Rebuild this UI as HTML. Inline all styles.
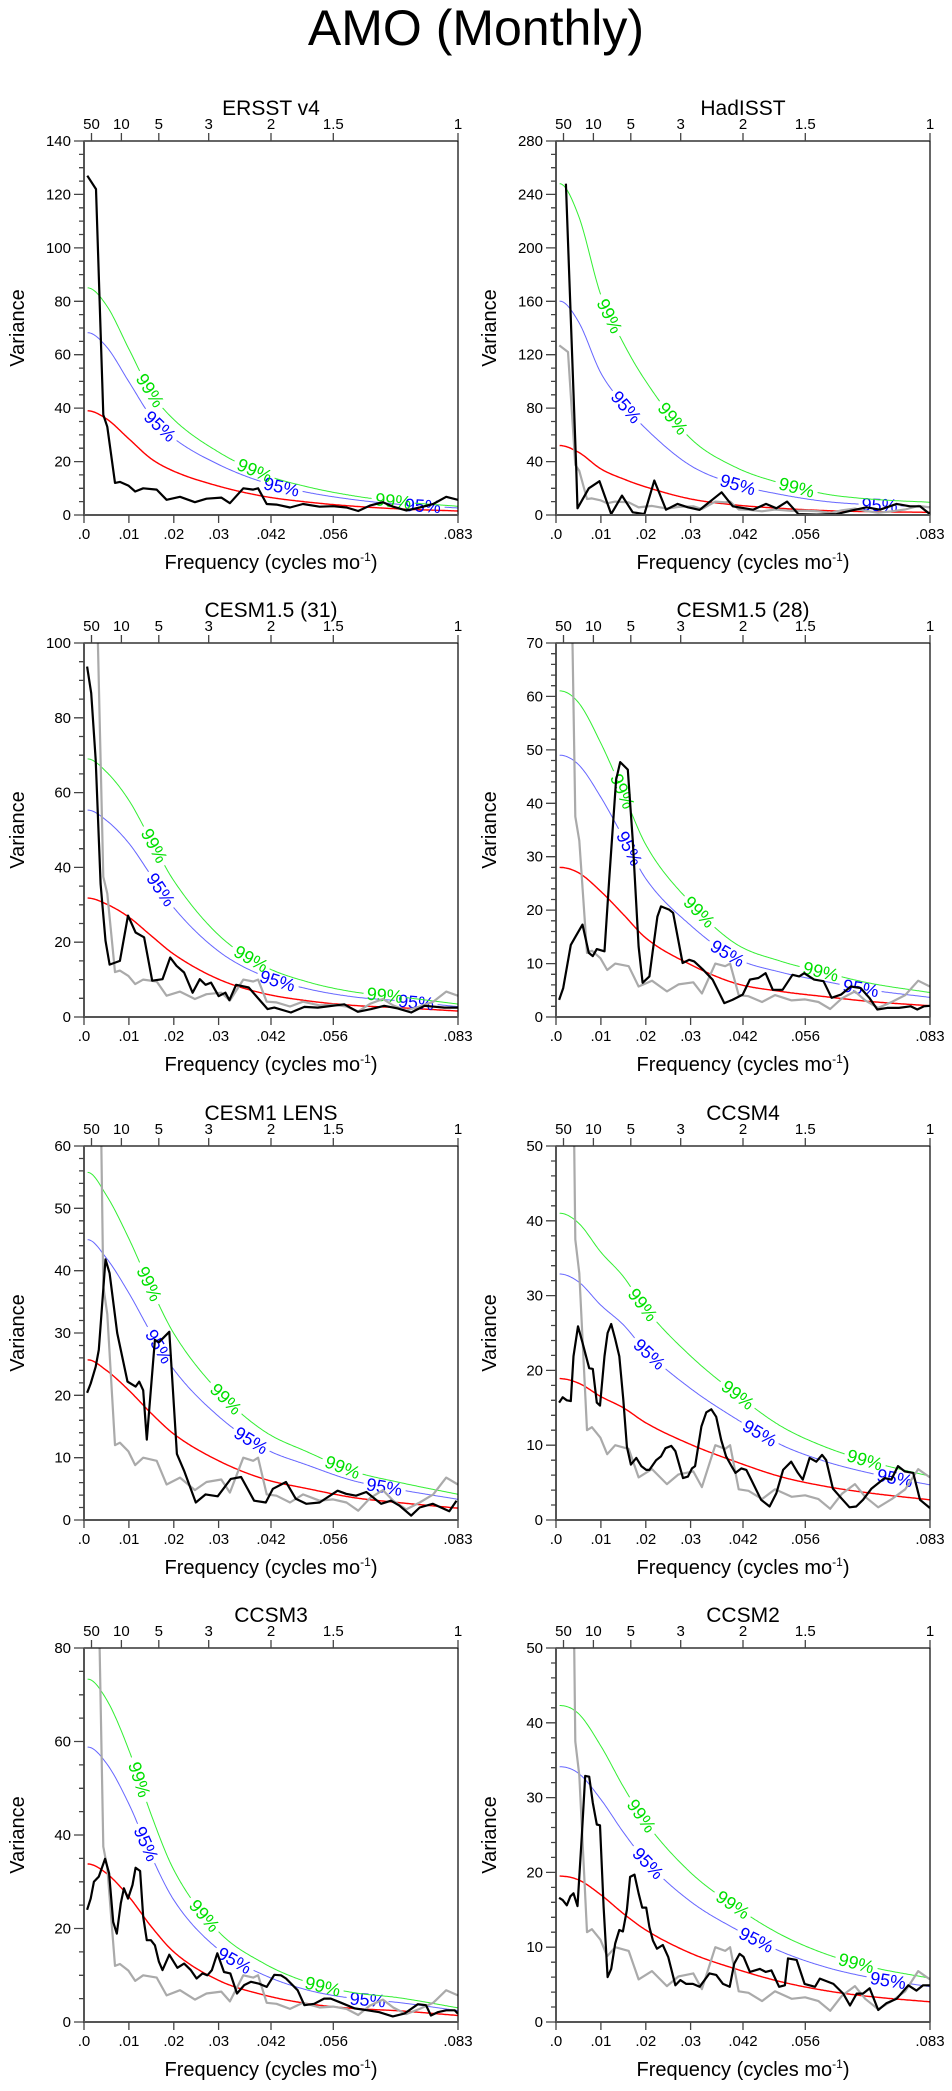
<!DOCTYPE html>
<html><head><meta charset="utf-8"><title>AMO (Monthly)</title>
<style>
html,body{margin:0;padding:0;background:#fff;}
svg{display:block;font-family:"Liberation Sans",Arial,sans-serif;}
</style></head>
<body>
<svg id="chart" width="952" height="2091" viewBox="0 0 952 2091" xmlns="http://www.w3.org/2000/svg">
<text x="476" y="45" text-anchor="middle" font-size="50">AMO (Monthly)</text>
</svg>
<script>
// ---------- data ----------
const redF = [0.0008,0.005,0.01,0.015,0.02,0.03,0.04,0.05,0.06,0.07,0.0833];
const xTickF = [0,0.01,0.02,0.03,1/24,1/18,1/12];
const xTickLabels = [".0",".01",".02",".03",".042",".056",".083"];
const periodYears = [50,10,5,3,2,1.5,1];
const periodLabels = ["50","10","5","3","2","1.5","1"];

const ersstF = [0.00074,0.00267,0.0043,0.0052,0.0069,0.0080,0.0099,0.0114,0.0132,0.0162,0.0184,0.0214,0.0247,0.0273,0.0306,0.0325,0.0355,0.0377,0.0388,0.0407,0.0429,0.0459,0.0488,0.0525,0.0555,0.0585,0.0611,0.0637,0.0666,0.0689,0.0718,0.0748,0.0778,0.0807,0.0833];
const ersstV = [127,122,37.5,33,12,12.4,11,8.8,10,9.5,5.7,6.8,4.8,6.1,6.5,4.4,10,9.5,10,4.1,3.9,2.8,4.1,3.1,3.3,2.8,1.5,3.5,4.8,3.1,1.7,2.8,4.1,6.8,5.7];
const ersstRed = [39,36,28.5,21,16.4,10.8,7,4.8,3.3,2.3,1.5];

const hadF = [0.0022,0.0045,0.0048,0.0073,0.0097,0.0123,0.0147,0.0171,0.0197,0.0219,0.0245,0.0271,0.0294,0.0320,0.0369,0.0394,0.0439,0.0468,0.0491,0.0515,0.0540,0.0580,0.0625,0.0658,0.0692,0.0722,0.0759,0.0789,0.0811,0.0833];
const hadV = [248,35.8,5,20,25.3,0.7,14.5,2,0.7,25.8,4,8.3,5.8,3.8,17,6.5,4,8.3,5,10,0.7,0.3,0.7,3.3,5.8,4,8.3,6.5,6.5,0.7];
const hadRed = [52,47,34.5,27,21,12,7.5,5,3.3,2.5,2];

const c31F = [0.0007,0.0016,0.0026,0.0037,0.0048,0.0057,0.0080,0.0098,0.0115,0.0134,0.0152,0.0175,0.0192,0.0206,0.0223,0.0242,0.0258,0.0271,0.0283,0.0300,0.0315,0.0324,0.0339,0.0367,0.0409,0.0424,0.0461,0.0491,0.0521,0.0580,0.0610,0.0640,0.0669,0.0699,0.0729,0.0759,0.0803,0.0833];
const c31V = [93.7,86.6,68.7,35.6,20.4,14,15,27.1,22.6,21.3,9.7,10.1,15.9,13.7,11.9,6.5,10.1,8.6,9.2,5.6,6.5,4.5,8.6,7.9,2.1,2.5,1.2,2.7,2.5,3.4,1.4,2.1,3,2.3,1.2,3,2.5,2.5];
const c31Red = [31.8,30.2,26.7,21.7,16.8,10.1,6.3,4.3,3.1,2.5,1.6];

const c28F = [0.0007,0.0016,0.0033,0.0044,0.0059,0.0073,0.0082,0.0091,0.0108,0.0119,0.0134,0.0143,0.0160,0.0171,0.0184,0.0193,0.0208,0.0215,0.0226,0.0234,0.0252,0.0261,0.0282,0.0297,0.0308,0.0327,0.0349,0.0375,0.0393,0.0416,0.0432,0.0451,0.0467,0.0483,0.0505,0.0527,0.0542,0.0553,0.0575,0.0596,0.0614,0.0635,0.0657,0.0679,0.0698,0.0716,0.0738,0.0764,0.0790,0.0805,0.0820,0.0833];
const c28V = [3.2,5.4,13.5,15.1,17.3,12,11.4,12.7,12.3,26.3,44.4,47.7,46.3,33.2,13.2,6.4,7.6,12,18.8,20.7,20.1,19.5,10.1,10.7,10.4,8.9,7,2.6,3.2,4.2,7,7.3,8.2,5.1,5.1,7.9,7.6,8.2,7,6.7,3.6,4.2,5.7,5.4,3.6,1.4,1.7,1.7,2,1.4,2,2.1];
const c28Red = [28,27,23.5,19.2,14.8,9.8,6.3,4.8,3.8,2.9,2.1];

const lensF = [0.0007,0.0015,0.0026,0.0033,0.0048,0.0057,0.0074,0.0097,0.0115,0.0123,0.0132,0.0140,0.0158,0.0167,0.0190,0.0207,0.0223,0.0249,0.0271,0.0298,0.0327,0.0350,0.0379,0.0405,0.0421,0.0450,0.0472,0.0495,0.0525,0.0565,0.0584,0.0606,0.0629,0.0662,0.0684,0.0703,0.0729,0.0748,0.0777,0.0814,0.0830];
const lensV = [20.4,21.9,24.6,27.3,41.8,39.6,30,22.2,21.4,22.2,20.8,12.9,28.9,28.5,30.2,10.6,7.9,2.8,4.1,3.8,6.6,6.9,3.1,2.8,5,6.1,3.4,2.6,2.8,4.7,4.2,3.9,4.5,2.6,3.1,2.3,0.7,2,2.6,1.4,3.1];
const lensRed = [25.7,24,20.8,17.1,13.8,9.5,6.6,5,3.6,2.8,1.9];

const c4F = [0.0007,0.0015,0.0024,0.0033,0.0039,0.0049,0.0059,0.0074,0.0082,0.0091,0.0098,0.0108,0.0115,0.0123,0.0132,0.0141,0.0150,0.0158,0.0167,0.0179,0.0190,0.0201,0.0208,0.0223,0.0234,0.0244,0.0257,0.0266,0.0283,0.0294,0.0303,0.0310,0.0324,0.0335,0.0346,0.0357,0.0368,0.0379,0.0391,0.0400,0.0413,0.0424,0.0435,0.0457,0.0476,0.0491,0.0506,0.0524,0.0539,0.0550,0.0565,0.0580,0.0593,0.0602,0.0617,0.0636,0.0654,0.0669,0.0684,0.0703,0.0718,0.0732,0.0747,0.0762,0.0777,0.0796,0.0811,0.0833];
const c4V = [15.7,16.4,16,15.9,21.9,25.9,23.7,20.3,20.2,15.7,15.3,21.9,25,26.2,24.2,21.9,16.1,9.8,7.4,8.3,7.2,6.7,6.7,8,8.5,9.6,9.9,9.2,5.6,5.8,6.9,7.2,12.5,14.4,14.8,13.8,10.7,8.5,7.2,6.3,6.9,6.7,5.4,2.7,1.8,3.6,6.7,7.8,6.3,5.4,8.3,7.8,8.7,8,4.2,2.9,1.7,1.8,2.7,4.2,4.9,5.6,5.4,7.2,6.5,6.3,2.7,1.6];
const c4Red = [18.9,18.3,16.5,15,13,10.1,7.8,5.8,4.5,3.6,2.7];

const c3F = [0.0007,0.0015,0.0022,0.0033,0.0047,0.0056,0.0065,0.0073,0.0082,0.0089,0.0098,0.0108,0.0115,0.0125,0.0132,0.0140,0.0149,0.0158,0.0167,0.0175,0.0190,0.0208,0.0223,0.0238,0.0251,0.0264,0.0275,0.0285,0.0297,0.0312,0.0326,0.0341,0.0357,0.0372,0.0390,0.0407,0.0424,0.0439,0.0450,0.0476,0.0491,0.0513,0.0535,0.0550,0.0573,0.0603,0.0632,0.0658,0.0688,0.0714,0.0744,0.0762,0.0773,0.0788,0.0807,0.0826,0.0833];
const c3V = [24,26.4,30,31.1,34.9,31.8,21.4,18.9,25.4,28.6,26.4,29.3,33,32.3,22.5,17.5,17.5,16.4,12.9,11.1,14.4,11.6,12.5,11.1,9.3,10.4,10,11.1,14.7,10.7,10.4,6.1,7.9,8.6,8.2,7.5,10.1,10,9.3,6.8,3.6,3.9,5,5,4.1,2.9,2.5,2.1,1.2,1.8,3.8,3.6,1.4,2.1,2.5,2.5,1.8];
const c3Red = [33.8,31.8,26.8,20.4,15,8.9,5.8,3.9,2.9,2.4,1.4];

const c2F = [0.0007,0.0015,0.0024,0.0032,0.0039,0.0048,0.0057,0.0065,0.0074,0.0082,0.0091,0.0098,0.0106,0.0115,0.0123,0.0132,0.0141,0.0149,0.0158,0.0165,0.0175,0.0184,0.0192,0.0201,0.0208,0.0216,0.0225,0.0238,0.0250,0.0266,0.0277,0.0290,0.0305,0.0320,0.0342,0.0357,0.0372,0.0387,0.0397,0.0409,0.0418,0.0432,0.0454,0.0467,0.0480,0.0497,0.0510,0.0517,0.0536,0.0554,0.0577,0.0588,0.0618,0.0640,0.0655,0.0670,0.0684,0.0699,0.0718,0.0736,0.0759,0.0785,0.0803,0.0818,0.0833];
const c2V = [16.6,16.3,15.6,16.8,17.2,15.5,24.4,32.9,32.8,29.3,26.4,26.3,15.4,6,7.1,10.5,12.3,12.1,15,19.4,19.7,17.2,15.3,15.3,12.7,10.9,9.8,10.3,8.7,4.9,5.6,5.1,5.1,4.7,6.5,6.3,5.1,4.7,7.8,9.1,8.7,6.7,7.1,6.7,6.9,4.7,4.9,8.5,8.3,5.1,4.7,5.8,5.1,3.8,2.2,3.8,3.8,4.5,1.6,2.5,3.1,4.9,4.2,4.9,4.9];
const c2Red = [19.5,19,17,14.5,12.3,9.2,7.1,5.4,4.2,3.4,2.7];

const panelTitles = ["ERSST v4","HadISST","CESM1.5 (31)","CESM1.5 (28)","CESM1 LENS","CCSM4","CCSM3","CCSM2"];
const yMax = [140,280,100,70,60,50,80,50];
const yStep = [20,40,20,10,10,10,20,10];
const yMinor = [5,10,5,2,2,2,5,2];
const factor95 = [1.75,3.08,1.74,1.75,1.75,1.74,1.74,1.75];
const factor99 = [2.18,4.77,2.17,2.18,2.17,2.17,2.17,2.17];
const label99F = [[0.0147,0.038,0.0689],[0.0119,0.026,0.0536],[0.0156,0.0372,0.067],[0.0148,0.0319,0.059],[0.0145,0.0316,0.0576],[0.0193,0.0405,0.0688],[0.0123,0.0268,0.0532],[0.019,0.0394,0.0669]];
const label95F = [[0.0169,0.044,0.0755],[0.0156,0.0405,0.0721],[0.0171,0.0431,0.074],[0.0163,0.0382,0.0679],[0.0167,0.0372,0.0669],[0.0208,0.0454,0.0755],[0.0138,0.0335,0.0632],[0.0205,0.0446,0.074]];
const seriesF = [ersstF,hadF,c31F,c28F,lensF,c4F,c3F,c2F];
const seriesV = [ersstV,hadV,c31V,c28V,lensV,c4V,c3V,c2V];
const redV = [ersstRed,hadRed,c31Red,c28Red,lensRed,c4Red,c3Red,c2Red];
const showGray = [false,true,true,true,true,true,true,true];

// ---------- drawing ----------
const NS = "http://www.w3.org/2000/svg";
const svg = document.getElementById("chart");
const W = 374, H = 374, FMAX = 1/12;
const panelLeft = [84,556];
const panelTop = [141,643,1146,1648];

function mk(tag, attrs, parent){
  const e = document.createElementNS(NS, tag);
  for (const k in attrs) e.setAttribute(k, attrs[k]);
  (parent||svg).appendChild(e);
  return e;
}
// monotone cubic (Fritsch-Carlson) interpolation
function interp(xs, ys, x){
  const n = xs.length;
  if (x <= xs[0]) return ys[0];
  if (x >= xs[n-1]) return ys[n-1];
  const d = [], m = [];
  for (let i = 0; i < n-1; i++) d.push((ys[i+1]-ys[i])/(xs[i+1]-xs[i]));
  m.push(d[0]);
  for (let i = 1; i < n-1; i++) m.push(d[i-1]*d[i] <= 0 ? 0 : (d[i-1]+d[i])/2);
  m.push(d[n-2]);
  m[0] = 0;
  for (let i = 0; i < n-1; i++){
    if (d[i] === 0){ m[i]=0; m[i+1]=0; continue; }
    const a = m[i]/d[i], b = m[i+1]/d[i], s = a*a+b*b;
    if (s > 9){ const t = 3/Math.sqrt(s); m[i]=t*a*d[i]; m[i+1]=t*b*d[i]; }
  }
  let i = 0; while (i < n-2 && x > xs[i+1]) i++;
  const h = xs[i+1]-xs[i], t = (x-xs[i])/h, t2=t*t, t3=t2*t;
  return (2*t3-3*t2+1)*ys[i] + (t3-2*t2+t)*h*m[i] + (-2*t3+3*t2)*ys[i+1] + (t3-t2)*h*m[i+1];
}

for (let p = 0; p < 8; p++){
  const ox = panelLeft[p%2], oy = panelTop[Math.floor(p/2)];
  const ym = yMax[p];
  const xs = f => ox + f/FMAX*W;
  const ys = v => oy + H - v/ym*H;
  const g = mk("g", {});
  
  

  const clip = mk("clipPath", {id:"clip"+p}, g);
  mk("rect", {x:ox, y:oy, width:W, height:H}, clip);

  const tt = mk("text", {x:ox+W/2, y:oy-26, "text-anchor":"middle", "font-size":"21"}, g);
  tt.textContent = panelTitles[p];
  
  

  const curves = [
    {k:1, color:"#ff0000", w:1.4, labels:[], lc:null, txt:"", name:"red-noise-curve"},
    {k:factor95[p], color:"#6666ff", w:1, labels:label95F[p], lc:"#0000ff", txt:"95%", name:"ci-95-curve"},
    {k:factor99[p], color:"#33ee33", w:1, labels:label99F[p], lc:"#00e000", txt:"99%", name:"ci-99-curve"}
  ];
  curves.forEach(c => {
    const val = f => interp(redF, redV[p], f)*c.k;
    const centers = c.labels.map(f => [xs(f), ys(val(f))]);
    let d = "", pen = false;
    for (let x = xs(redF[0]); x <= ox+W+0.01; x += 1){
      const f = (x-ox)/W*FMAX;
      const y = ys(val(f));
      const gap = centers.some(cc => Math.hypot(x-cc[0], y-cc[1]) < 21);
      if (gap){ pen = false; continue; }
      d += (pen ? "L" : "M") + x.toFixed(1) + "," + y.toFixed(1);
      pen = true;
    }
    const path = mk("path", {d:d, fill:"none", stroke:c.color, "stroke-width":c.w, "clip-path":"url(#clip"+p+")"}, g);
    
    
    c.labels.forEach(f => {
      const x = xs(f), y = ys(val(f));
      const y2 = ys(val(f+0.001)), x2 = xs(f+0.001);
      const ang = Math.atan2(y2-y, x2-x)*180/Math.PI;
      const t = mk("text", {x:x, y:y, "text-anchor":"middle", "dominant-baseline":"central", "font-size":"18", fill:c.lc, transform:"rotate("+ang.toFixed(1)+" "+x.toFixed(1)+" "+y.toFixed(1)+")"}, g);
      t.textContent = c.txt;
      
      
    });
  });

  if (showGray[p]){
    const pts = ersstF.map((f,i) => xs(f).toFixed(1)+","+ys(ersstV[i]).toFixed(1)).join(" ");
    const gl = mk("polyline", {points:pts, fill:"none", stroke:"#aaaaaa", "stroke-width":"2.2", "stroke-linejoin":"round", "clip-path":"url(#clip"+p+")"}, g);
    
    
  }
  const pts = seriesF[p].map((f,i) => xs(f).toFixed(1)+","+ys(seriesV[p][i]).toFixed(1)).join(" ");
  const bl = mk("polyline", {points:pts, fill:"none", stroke:"#000", "stroke-width":"2.2", "stroke-linejoin":"round", "clip-path":"url(#clip"+p+")"}, g);
  
  

  const fr = mk("rect", {x:ox, y:oy, width:W, height:H, fill:"none", stroke:"#000", "stroke-width":"1.2"}, g);
  
  
  const la = mk("path", {d:"M"+ox+","+oy+"V"+(oy+H)+"H"+(ox+W), fill:"none", stroke:"#555", "stroke-width":"2"}, g);
  
  

  let td = "";
  for (let v = 0; v <= ym+1e-9; v += yMinor[p]){
    const isMajor = Math.abs(v/yStep[p] - Math.round(v/yStep[p])) < 1e-6;
    td += "M"+ox+","+ys(v).toFixed(1)+"h"+(isMajor?-10:-5);
    if (isMajor){
      const yl = mk("text", {x:ox-13, y:ys(v)+5, "text-anchor":"end", "font-size":"15"}, g);
      yl.textContent = String(v);
      
      
    }
  }
  xTickF.forEach((f,i) => {
    td += "M"+xs(f).toFixed(1)+","+(oy+H)+"v8";
    const xl = mk("text", {x:xs(f), y:oy+H+24, "text-anchor":"middle", "font-size":"15"}, g);
    xl.textContent = xTickLabels[i];
    
    
  });
  periodYears.forEach((yr,i) => {
    const f = 1/(12*yr);
    td += "M"+xs(f).toFixed(1)+","+oy+"v-8";
    const pl = mk("text", {x:xs(f), y:oy-12, "text-anchor":"middle", "font-size":"15"}, g);
    pl.textContent = periodLabels[i];
    
    
  });
  const tk = mk("path", {d:td, stroke:"#444", "stroke-width":"1.3", fill:"none"}, g);
  
  

  const xt = mk("text", {x:ox+W/2, y:oy+H+54, "text-anchor":"middle", "font-size":"20"}, g);
  xt.innerHTML = 'Frequency (cycles mo<tspan dy="-8" font-size="12">-1</tspan><tspan dy="8">)</tspan>';
  
  
  const yx = ox - 66, yy = oy + H/2;
  const yt = mk("text", {x:yx, y:yy, "text-anchor":"middle", "dominant-baseline":"central", "font-size":"20", transform:"rotate(-90 "+yx+" "+yy+")"}, g);
  yt.textContent = "Variance";
  
  
}
</script>
</body></html>
